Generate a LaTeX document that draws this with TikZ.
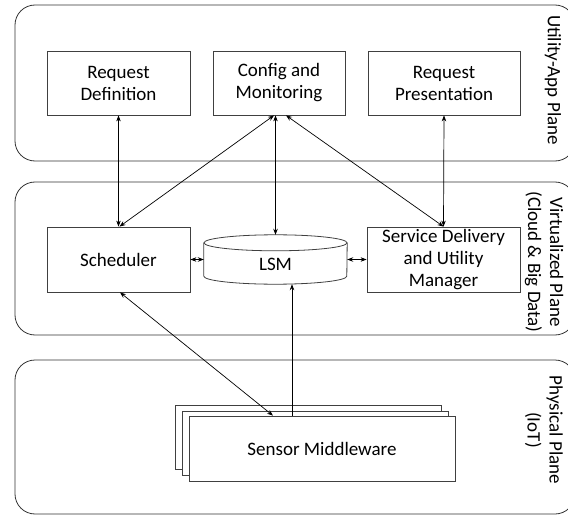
\documentclass[tikz,border=0pt]{standalone}
\usepackage{fontspec}
\setmainfont{Carlito}
\usetikzlibrary{arrows.meta}

\tikzset{
  plane/.style={draw=black!80, line width=0.8pt, rounded corners=20pt},
  blkline/.style={draw=black!75, line width=0.8pt},
  blk/.style={blkline, fill=white, align=center, inner sep=0pt, font=\fontsize{19}{22}\selectfont},
  planelbl/.style={rotate=-90, align=center, font=\fontsize{19}{22}\selectfont},
  link/.style={line width=0.7pt, {Stealth[length=6pt,width=4.5pt]}-{Stealth[length=6pt,width=4.5pt]}},
  uplink/.style={line width=0.7pt, -{Stealth[length=6pt,width=4.5pt]}}
}

\begin{document}
\begin{tikzpicture}[x=1pt,y=-1pt]

\useasboundingbox (0,0) rectangle (568,516);
\clip (0,0) rectangle (568,516);

% Planes
\draw[plane] (15,5) rectangle (575,161);
\draw[plane] (15,182) rectangle (575,335);
\draw[plane] (15,360) rectangle (575,514);

% Plane labels
\node[planelbl] (lblapp) at (553,80) {Utility-App Plane};
\node[planelbl] (lblvirt) at (544,262) {Virtualized Plane\\(Cloud \& Big Data)};
\node[planelbl] (lblphys) at (544,430) {Physical Plane\\(IoT)};

% Utility-App plane blocks
\node[blk, minimum width=143pt, minimum height=64pt] (reqdef) at (118.5,83) {Request\\Definition};
\node[blk, minimum width=132pt, minimum height=64pt] (config) at (279,83) {Config and\\Monitoring};
\node[blk, minimum width=152pt, minimum height=64pt] (reqpres) at (444,83) {Request\\Presentation};

% Virtualized plane blocks
\node[blk, minimum width=143pt, minimum height=65pt] (sched) at (118.5,259.5) {Scheduler};
\node[blk, minimum width=153pt, minimum height=65pt] (serv) at (443.5,259.5) {Service Delivery\\and Utility\\Manager};

% LSM cylinder
\node[minimum width=143pt, minimum height=49pt, inner sep=0pt] (lsm) at (275.5,259.5) {};
\draw[blkline, fill=white] ([yshift=-8pt]lsm.north west) -- ([yshift=8pt]lsm.south west)
  arc[start angle=180, end angle=360, x radius=71.5pt, y radius=8pt]
  -- ([yshift=-8pt]lsm.north east);
\draw[blkline] ([yshift=-8pt]lsm.north) ellipse [x radius=71.5pt, y radius=8pt];
\node[font=\fontsize{19}{22}\selectfont] (lsmtxt) at (275.5,264) {LSM};

% Sensor middleware stack
\draw[blkline, fill=white] (175,405) rectangle (441,469);
\draw[blkline, fill=white] (182,411) rectangle (448,475);
\node[blk, minimum width=266pt, minimum height=65pt] (sensor) at (322,448.5) {Sensor Middleware};

% Connectors
\draw[link] (reqdef.south) -- (sched.north);
\draw[link] ([xshift=-5pt]config.south) -- ([xshift=1pt]sched.north);
\draw[link] ([xshift=-3.5pt]config.south) -- (lsm.north);
\draw[link] ([xshift=7pt]config.south) -- (serv.north);
\draw[link] (reqpres.south) -- (serv.north);
\draw[link] (sched.east) -- (lsm.west);
\draw[link] (lsm.east) -- (serv.west);
\draw[link] ([xshift=1.5pt]sched.south) -- ([xshift=-49pt]sensor.north);
\draw[uplink] ([xshift=-30pt]sensor.north) -- ([xshift=16.5pt]lsm.south);

\end{tikzpicture}
\end{document}
